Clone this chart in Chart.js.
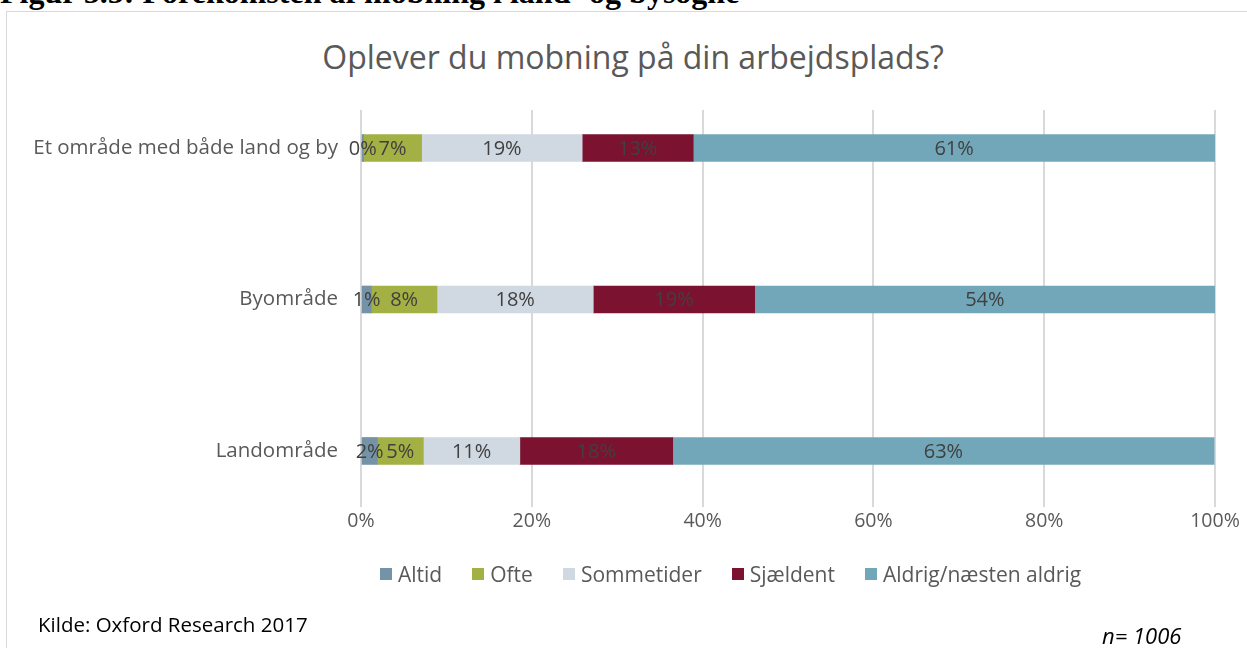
<!DOCTYPE html>
<html lang="da">
<head>
<meta charset="utf-8">
<title>Oplever du mobning på din arbejdsplads?</title>
<script src="https://cdn.jsdelivr.net/npm/chart.js@4"></script>
<style>
  html, body { margin: 0; padding: 0; background: #fff; overflow: hidden; }
  body { width: 1247px; height: 648px; position: relative; font-family: "Open Sans", sans-serif; }
  .heading { position: absolute; left: 0; top: -26px; font: bold 32px "Liberation Serif", serif; color: #000; white-space: nowrap; }
  .frame { position: absolute; left: 6px; top: 11px; width: 1300px; height: 700px; border: 1px solid #d9d9d9; }
  .title { position: absolute; left: 0; width: 1266px; top: 35px; text-align: center; font-size: 32px; color: #595959; }
  #chartWrap { position: absolute; left: 0; top: 0; width: 1247px; height: 648px; }
  .legend { position: absolute; left: 380px; top: 560px; display: flex; font-size: 21px; color: #595959; }
  .legend span { display: flex; align-items: center; margin-right: 30px; }
  .legend i { display: inline-block; width: 12px; height: 12px; margin-right: 6px; }
  .source { position: absolute; left: 38px; top: 610px; font-size: 20.5px; color: #000; }
  .n { position: absolute; left: 1102px; top: 620px; font-size: 22px; font-style: italic; color: #000; }
</style>
</head>
<body>
<div class="heading">Figur 5.5: Forekomsten af mobning i land- og bysogne</div>
<div class="frame"></div>
<div class="title">Oplever du mobning på din arbejdsplads?</div>
<div id="chartWrap"><canvas id="mobningChart"></canvas></div>
<div class="legend" id="legend"></div>
<div class="source">Kilde: Oxford Research 2017</div>
<div class="n">n= 1006</div>
<script>
// Categories (top to bottom) and series values in percent
const categories = ['Et område med både land og by', 'Byområde', 'Landområde'];
const seriesNames = ['Altid', 'Ofte', 'Sommetider', 'Sjældent', 'Aldrig/næsten aldrig'];
const seriesColors = ['#7593a6', '#a2b044', '#d0d9e1', '#7b1230', '#72a7ba'];
const altid = [0.3, 1.2, 1.9];
const ofte = [6.8, 7.7, 5.4];
const sommetider = [18.8, 18.3, 11.3];
const sjaeldent = [13.0, 18.9, 17.9];
const aldrig = [61.1, 53.9, 63.4];
const xTicks = [0, 20, 40, 60, 80, 100];

const seriesValues = [altid, ofte, sommetider, sjaeldent, aldrig];

// Legend
const legendEl = document.getElementById('legend');
seriesNames.forEach((name, i) => {
  const s = document.createElement('span');
  s.innerHTML = `<i style="background:${seriesColors[i]}"></i>${name}`;
  legendEl.appendChild(s);
});

// Value labels in the middle of each segment
const segmentLabels = {
  id: 'segmentLabels',
  afterDatasetsDraw(chart) {
    const ctx = chart.ctx;
    ctx.save();
    ctx.font = '20px "Open Sans", sans-serif';
    ctx.fillStyle = '#404040';
    ctx.textAlign = 'center';
    ctx.textBaseline = 'middle';
    chart.data.datasets.forEach((ds, di) => {
      chart.getDatasetMeta(di).data.forEach((bar, i) => {
        const { x, y, base } = bar.getProps(['x', 'y', 'base'], true);
        ctx.fillText(Math.round(ds.data[i].x) + '%', (x + base) / 2, y + 1);
      });
    });
    ctx.restore();
  }
};

new Chart(document.getElementById('mobningChart'), {
  type: 'bar',
  data: {
    datasets: seriesNames.map((name, i) => ({
      label: name,
      data: seriesValues[i].map((v, idx) => ({ x: v, y: idx })),
      backgroundColor: seriesColors[i],
      borderWidth: 0,
      barThickness: 27
    }))
  },
  options: {
    indexAxis: 'y',
    responsive: true,
    maintainAspectRatio: false,
    animation: false,
    layout: { padding: { top: 110, right: 32, bottom: 101, left: 0 } },
    plugins: { legend: { display: false }, tooltip: { enabled: false } },
    scales: {
      x: {
        type: 'linear',
        stacked: true,
        min: 0,
        max: 100,
        afterBuildTicks: s => { s.ticks = xTicks.map(v => ({ value: v })); },
        afterFit: s => { s.height = 40; },
        grid: { color: '#d9d9d9', lineWidth: 2, drawTicks: false },
        border: { display: false },
        ticks: { color: '#595959', font: { size: 19.5, family: 'Open Sans' }, padding: 3, callback: v => v + '%' }
      },
      y: {
        type: 'linear',
        stacked: true,
        reverse: true,
        offset: false,
        min: -0.251,
        max: 2.37,
        afterBuildTicks: s => { s.ticks = categories.map((_, i) => ({ value: i })); },
        afterFit: s => { s.width = 361; },
        grid: { display: false, drawTicks: false },
        border: { display: false },
        ticks: { color: '#595959', font: { size: 20.5, family: 'Open Sans' }, padding: 23, autoSkip: false, callback: v => categories[v] }
      }
    }
  },
  plugins: [segmentLabels]
});
</script>
</body>
</html>
